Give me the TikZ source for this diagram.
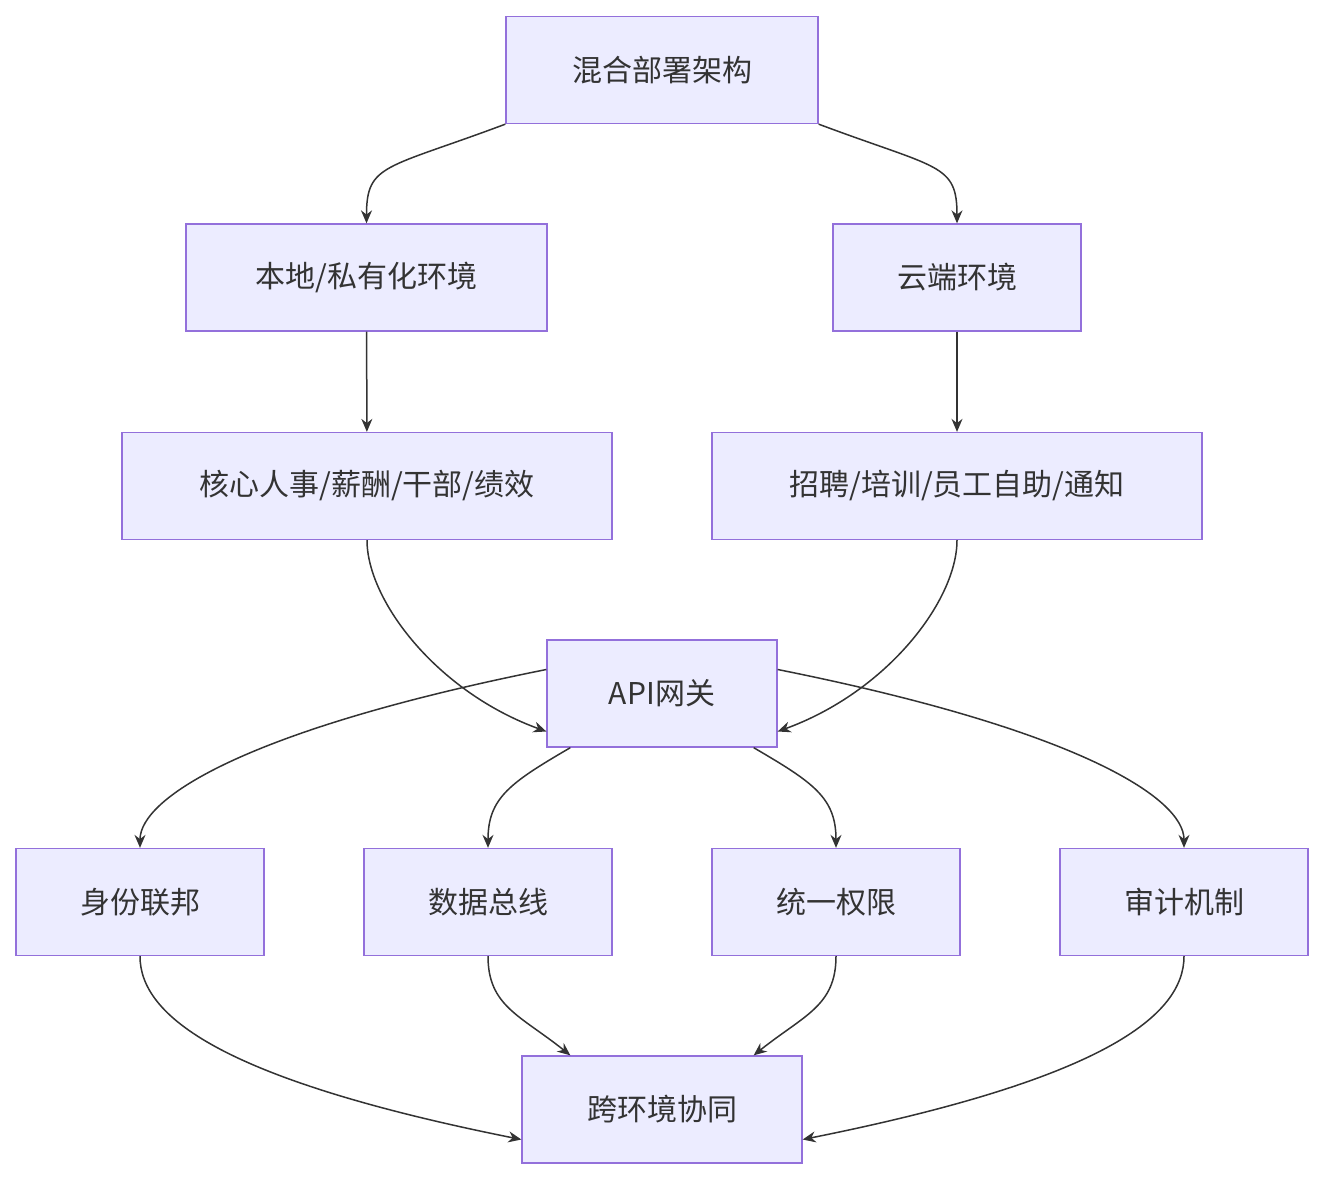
\documentclass[tikz,border=0pt]{standalone}
\usepackage{fontspec}
\setmainfont{Noto Sans CJK SC}
\usetikzlibrary{arrows.meta,positioning}
\definecolor{boxfill}{HTML}{ECECFF}
\definecolor{boxline}{HTML}{9370DB}
\definecolor{edge}{HTML}{333333}
\begin{document}
\begin{tikzpicture}[x=1pt,y=-1pt,
	box/.style={draw=boxline,fill=boxfill,line width=1.3pt,minimum height=107pt,inner sep=0pt,text=edge,font=\fontsize{30}{36}\selectfont},
	link/.style={draw=edge,line width=1.5pt,-{Stealth[length=13pt,width=11pt]}}]
	\useasboundingbox (0,0) rectangle (1324,1180);
	
	\node[box,minimum width=312pt] (top) at (662,70) {混合部署架构};
	\node[box,minimum width=361pt] (local) at (366.5,277.5) {本地/私有化环境};
	\node[box,minimum width=248pt] (cloud) at (957,277.5) {云端环境};
	\node[box,minimum width=490pt] (core) at (367,486) {核心人事/薪酬/干部/绩效};
	\node[box,minimum width=490pt] (recruit) at (957,486) {招聘/培训/员工自助/通知};
	\node[box,minimum width=230pt] (api) at (662,693.5) {API网关};
	\node[box,minimum width=248pt] (idfed) at (140,902) {身份联邦};
	\node[box,minimum width=248pt] (bus) at (488,902) {数据总线};
	\node[box,minimum width=248pt] (perm) at (836,902) {统一权限};
	\node[box,minimum width=248pt] (audit) at (1184,902) {审计机制};
	\node[box,minimum width=280pt] (collab) at (662,1109.5) {跨环境协同};
	
	% upper part
	\draw[link] (top.south west) .. controls +(-120,45) and +(0,-60) .. (local.north);
	\draw[link] (top.south east) .. controls +(120,45) and +(0,-60) .. (cloud.north);
	\draw[link] (local) -- (core);
	\draw[link] (cloud) -- (recruit);
	\draw[link] (core.south) .. controls +(0,60) and +(-110,-40) .. ([yshift=-38pt]api.west);
	\draw[link] (recruit.south) .. controls +(0,60) and +(110,-40) .. ([yshift=-38pt]api.east);
	
	% fan out from the gateway
	\draw[link] ([yshift=24pt]api.west) .. controls +(-300,60) and +(0,-50) .. (idfed.north);
	\draw[link] ([xshift=24pt]api.south west) .. controls +(-60,35) and +(0,-50) .. (bus.north);
	\draw[link] ([xshift=-24pt]api.south east) .. controls +(60,35) and +(0,-50) .. (perm.north);
	\draw[link] ([yshift=24pt]api.east) .. controls +(300,60) and +(0,-50) .. (audit.north);
	
	% fan in to collaboration
	\draw[link] (idfed.south) .. controls +(0,60) and +(-300,-60) .. ([yshift=-30pt]collab.west);
	\draw[link] (bus.south) .. controls +(0,50) and +(-50,-40) .. ([xshift=49pt]collab.north west);
	\draw[link] (perm.south) .. controls +(0,50) and +(50,-40) .. ([xshift=-49pt]collab.north east);
	\draw[link] (audit.south) .. controls +(0,60) and +(300,-60) .. ([yshift=-30pt]collab.east);
\end{tikzpicture}
\end{document}
